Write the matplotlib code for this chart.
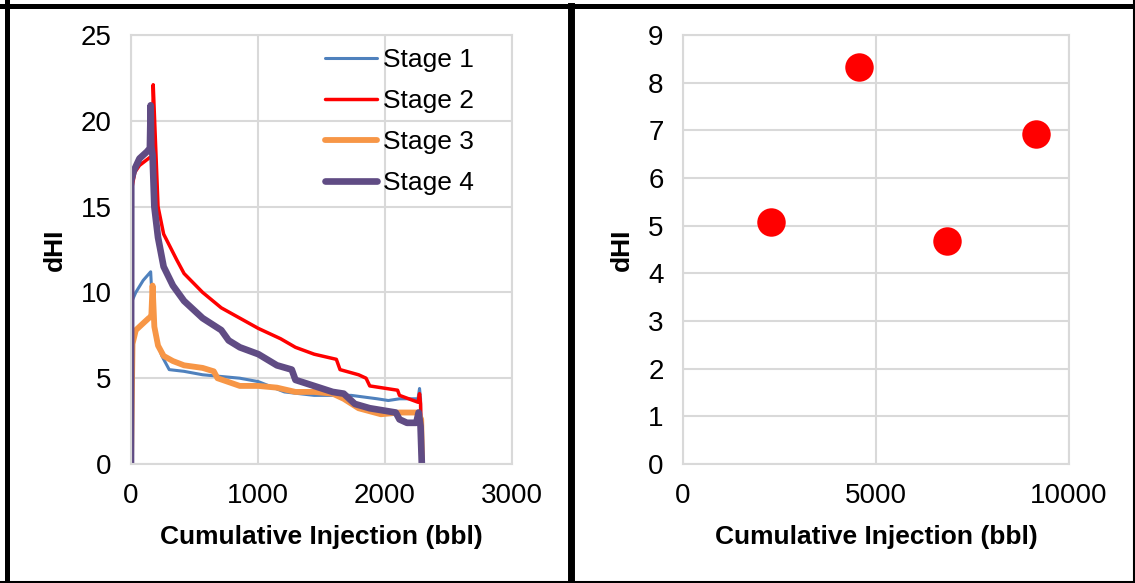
import matplotlib

matplotlib.use("Agg")
import matplotlib.pyplot as plt
from matplotlib.lines import Line2D

plt.rcParams["font.family"] = ["Liberation Sans", "DejaVu Sans"]

# left panel: dHI vs cumulative injection, per stage
stage1_x = [0, 8, 38, 96, 155, 165, 199, 243, 301, 418, 564, 711, 857, 1003, 1208, 1442,
            1734, 1939, 2026, 2114, 2260, 2272, 2280, 2285]
stage1_y = [0, 9.5, 10.0, 10.7, 11.2, 9.8, 7.2, 6.3, 5.5, 5.4, 5.2, 5.1, 5.0, 4.8, 4.2, 4.0,
            4.0, 3.8, 3.7, 3.8, 3.8, 4.4, 3.8, 0]

stage2_x = [0, 5, 30, 67, 155, 170, 175, 213, 257, 360, 418, 564, 711, 857, 1003, 1178, 1295,
            1442, 1617, 1646, 1792, 1851, 1880, 2099, 2114, 2260, 2272, 2280, 2290]
stage2_y = [0, 16.0, 17.0, 17.4, 17.9, 18.0, 22.1, 15.0, 13.4, 11.9, 11.1, 10.0, 9.1, 8.5, 7.9,
            7.3, 6.8, 6.4, 6.1, 5.5, 5.2, 5.0, 4.55, 4.3, 4.0, 3.6, 4.1, 3.5, 0]

stage3_x = [0, 12, 38, 96, 140, 160, 170, 184, 213, 257, 330, 418, 564, 652, 681, 857, 1003,
            1149, 1295, 1442, 1588, 1675, 1792, 1968, 2114, 2260, 2285, 2292]
stage3_y = [0, 7.0, 7.8, 8.2, 8.5, 8.6, 10.4, 8.0, 6.9, 6.3, 6.0, 5.75, 5.6, 5.4, 5.0, 4.55,
            4.55, 4.45, 4.2, 4.2, 4.1, 3.8, 3.25, 2.9, 3.0, 3.0, 2.6, 0]

stage4_x = [0, 2, 23, 67, 126, 149, 155, 160, 170, 184, 213, 257, 330, 418, 564, 711, 769, 857,
            1003, 1149, 1266, 1295, 1442, 1588, 1675, 1763, 1880, 2085, 2114, 2173, 2246, 2265,
            2280, 2290]
stage4_y = [0, 16.5, 17.1, 17.8, 18.2, 18.4, 20.9, 18.5, 18.0, 15.0, 13.2, 11.5, 10.4, 9.5,
            8.5, 7.8, 7.2, 6.8, 6.4, 5.75, 5.5, 4.9, 4.55, 4.2, 4.1, 3.5, 3.25, 3.0, 2.6, 2.4,
            2.4, 3.0, 2.2, 0]

stages = ["Stage 1", "Stage 2", "Stage 3", "Stage 4"]

# right panel: one point per stage
total_injection = [2277, 4564, 6850, 9146]
stage_dhi = [5.07, 8.33, 4.68, 6.92]

GRID = "#D9D9D9"

fig = plt.figure(figsize=(11.35, 5.83), dpi=100)
ax1 = fig.add_axes([0.1154, 0.2041, 0.3357, 0.7359])
ax2 = fig.add_axes([0.6018, 0.2041, 0.3401, 0.7359])

series = [
    (stage1_x, stage1_y, "#4F81BD", 2.2),
    (stage2_x, stage2_y, "#FF0000", 2.5),
    (stage3_x, stage3_y, "#F79646", 4.2),
    (stage4_x, stage4_y, "#604C84", 4.8),
]
for (xs, ys, color, lw), name in zip(series, stages):
    ax1.plot(xs, ys, color=color, lw=lw, label=name, solid_capstyle="round")

ax1.set_xlim(0, 3000)
ax1.set_ylim(0, 25)
ax1.set_xticks([0, 1000, 2000, 3000])
ax1.set_yticks(range(0, 26, 5))
ax1.legend(loc="upper right", bbox_to_anchor=(0.948, 1.012), frameon=False, fontsize=19,
           handlelength=2.0, handletextpad=0.2, labelspacing=0.64, borderaxespad=0.3)

ax2.scatter(total_injection, stage_dhi, s=420, color="#FF0000", zorder=3, linewidths=0)
ax2.set_xlim(0, 10000)
ax2.set_ylim(0, 9)
ax2.set_xticks([0, 5000, 10000])
ax2.set_yticks(range(0, 10))

for ax in (ax1, ax2):
    ax.grid(True, color=GRID, lw=1.5)
    ax.set_axisbelow(True)
    for sp in ax.spines.values():
        sp.set_color(GRID)
        sp.set_linewidth(1.5)
    ax.tick_params(length=0, labelsize=20, pad=14)
    ax.set_xlabel("Cumulative Injection (bbl)", fontsize=19, fontweight="bold", labelpad=11)
    ax.set_ylabel("dHI", fontsize=19, fontweight="bold", labelpad=10)

# panel frames
for xs, ys, lw in [
    ([0, 1], [0.9889, 0.9889], 3.6),
    ([0.0066, 0.0066], [0, 1], 3.6),
    ([0.5035, 0.5035], [0, 0.9889], 5.0),
    ([0, 1], [0.0017, 0.0017], 2.2),
    ([0.9987, 0.9987], [0, 1], 1.5),
]:
    fig.add_artist(Line2D(xs, ys, transform=fig.transFigure, color="black", lw=lw))

fig.savefig("out.png", dpi=100)
